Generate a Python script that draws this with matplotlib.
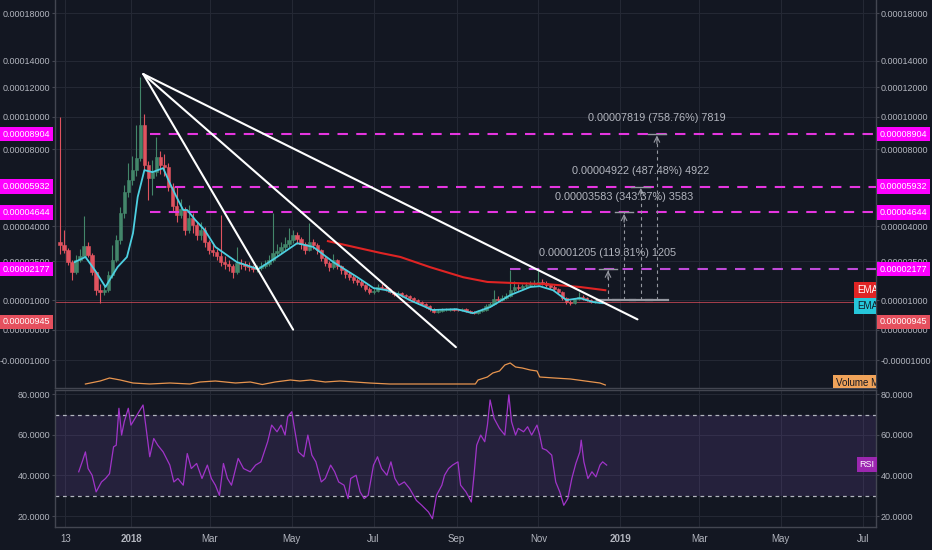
import numpy as np
import matplotlib.pyplot as plt
from matplotlib import font_manager
from matplotlib.ticker import FixedLocator, FuncFormatter

plt.rcParams['font.family'] = ['Liberation Sans', 'DejaVu Sans']
installed = {f.name for f in font_manager.fontManager.ttflist}
AXIS_FONT = 'Liberation Sans Narrow' if 'Liberation Sans Narrow' in installed else 'Liberation Sans'
AXIS_SIZE = 7.2 if AXIS_FONT == 'Liberation Sans Narrow' else 6.5

# colours (TradingView dark theme)
BG = '#131722'
GRID = '#242834'
AXIS_LINE = '#434651'
TEXT = '#b2b5be'
UP = '#43866a'
DOWN = '#e0535f'
TAG_MAGENTA = '#ff00ff'
TAG_RED = '#e5505e'

U = 1e-5  # all prices below are in units of 0.00001

# x positions are days counted from 2018-01-01
# 3-day candles starting 2017-11-09
CANDLE_START = -53
CANDLE_STEP = 3
first_open = 3.30
closes = [
    3.17, 2.96, 2.46, 2.06, 2.54, 2.71, 3.13, 2.75, 2.06, 1.37,
    1.30, 1.37, 1.94, 2.54, 3.38, 4.61, 5.65, 6.27, 6.81, 7.48,
    9.47, 7.09, 6.38, 6.70, 7.54, 7.09, 7.00, 5.91, 4.95, 4.52,
    4.80, 3.83, 4.38, 4.05, 3.60, 3.83, 3.30, 2.96, 2.88, 2.71,
    2.46, 2.38, 2.30, 2.06, 2.42, 2.38, 2.30, 2.26, 2.18, 2.22,
    2.30, 2.38, 2.54, 2.84, 2.92, 3.09, 3.21, 3.38, 3.60, 3.43,
    3.21, 2.96, 3.30, 3.17, 2.96, 2.63, 2.42, 2.26, 2.54, 2.30,
    2.14, 1.98, 1.86, 1.75, 1.68, 1.56, 1.41, 1.30, 1.34, 1.49,
    1.47, 1.41, 1.30, 1.23, 1.26, 1.19, 1.15, 1.08, 1.01, 0.94,
    0.87, 0.80, 0.69, 0.59, 0.62, 0.66, 0.67, 0.69, 0.66, 0.65,
    0.69, 0.62, 0.59, 0.55, 0.62, 0.66, 0.80, 0.87, 1.04, 1.01,
    1.08, 1.15, 1.37, 1.49, 1.45, 1.52, 1.56, 1.60, 1.64, 1.68,
    1.64, 1.56, 1.49, 1.41, 1.30, 1.08, 0.94, 0.90, 1.04, 1.12,
    1.08, 1.01, 0.94, 0.97, 0.95, 0.945,
]
highs = [
    10.0, 3.83, 3.05, 2.55, 2.75, 3.00, 4.47, 3.30, 2.85, 2.10,
    1.60, 1.55, 2.10, 3.17, 3.60, 4.90, 6.00, 7.20, 7.60, 9.47,
    12.8, 10.2, 7.30, 7.40, 8.70, 7.90, 7.70, 7.20, 6.10, 5.90,
    5.30, 4.90, 5.00, 4.60, 4.20, 4.20, 3.95, 3.40, 3.20, 3.00,
    4.52, 2.70, 2.55, 2.40, 3.10, 2.60, 2.50, 2.45, 2.35, 2.35,
    2.45, 2.55, 2.75, 4.61, 3.20, 3.30, 3.50, 3.92, 3.85, 3.75,
    3.50, 3.30, 4.17, 3.45, 3.25, 3.00, 2.70, 2.50, 2.80, 2.60,
    2.35, 2.20, 2.05, 1.95, 1.85, 1.75, 1.62, 1.48, 1.45, 1.62,
    1.60, 1.55, 1.45, 1.35, 1.35, 1.30, 1.24, 1.20, 1.12, 1.05,
    0.98, 0.92, 0.84, 0.72, 0.68, 0.72, 0.72, 0.74, 0.72, 0.70,
    0.74, 0.72, 0.65, 0.62, 0.66, 0.72, 0.86, 0.95, 1.37, 1.15,
    1.20, 1.25, 2.14, 1.70, 1.60, 1.62, 1.68, 1.72, 1.75, 2.22,
    1.78, 1.70, 1.62, 1.55, 1.45, 1.35, 1.12, 1.00, 1.10, 1.30,
    1.18, 1.12, 1.04, 1.00, 1.00, 0.98,
]
lows = [
    2.80, 2.85, 2.35, 1.75, 2.00, 2.45, 2.65, 2.65, 1.95, 1.20,
    0.90, 1.20, 1.30, 1.85, 2.45, 3.20, 4.40, 5.40, 6.00, 6.50,
    7.30, 6.80, 5.25, 5.50, 6.50, 6.60, 6.50, 5.70, 4.70, 4.20,
    4.40, 3.60, 3.70, 3.70, 3.40, 3.40, 3.10, 2.80, 2.70, 2.55,
    2.30, 2.20, 2.10, 1.85, 2.00, 2.20, 2.15, 2.10, 2.05, 2.08,
    2.15, 2.22, 2.30, 2.45, 2.70, 2.85, 2.95, 3.10, 3.25, 3.20,
    3.00, 2.80, 2.90, 3.00, 2.80, 2.50, 2.30, 2.10, 2.20, 2.20,
    2.00, 1.85, 1.75, 1.65, 1.58, 1.48, 1.33, 1.22, 1.24, 1.30,
    1.40, 1.35, 1.25, 1.17, 1.18, 1.12, 1.08, 1.02, 0.95, 0.88,
    0.82, 0.74, 0.64, 0.54, 0.56, 0.60, 0.62, 0.63, 0.62, 0.62,
    0.63, 0.58, 0.55, 0.51, 0.53, 0.60, 0.64, 0.76, 0.84, 0.95,
    0.98, 1.04, 1.12, 1.30, 1.38, 1.40, 1.46, 1.50, 1.54, 1.58,
    1.56, 1.50, 1.42, 1.35, 1.22, 1.00, 0.88, 0.85, 0.88, 1.00,
    1.02, 0.96, 0.90, 0.91, 0.92, 0.92,
]
last_price = 0.945

# fast EMA (cyan) and slow EMA (red)
ema_fast_days = [-42, -34, -27, -19, -16, -10, -3, 1.5, 5, 10, 16, 20, 24, 29, 34,
                 39, 42, 48, 55, 63, 79, 95, 109, 124, 136, 151, 169, 181, 191, 201,
                 208, 225, 243, 255, 268, 283, 298, 305, 315, 325, 335, 345, 352]
ema_fast = [2.46, 2.67, 2.14, 1.49, 1.75, 2.26, 2.67, 3.69, 5.40, 6.81, 6.70, 6.81,
            6.92, 6.11, 5.40, 4.76, 4.76, 4.29, 3.83, 3.09, 2.46, 2.18, 2.67, 3.25,
            3.09, 2.46, 1.86, 1.45, 1.37, 1.19, 1.01, 0.66, 0.69, 0.55, 0.76, 1.19,
            1.49, 1.52, 1.37, 1.01, 1.08, 0.94, 0.90]
ema_slow_days = [147, 186, 201, 223, 248, 266, 285, 310, 335, 354]
ema_slow = [3.34, 2.84, 2.67, 2.26, 1.86, 1.68, 1.64, 1.60, 1.49, 1.37]

# volume moving average (arbitrary units)
vol_days = [-34, -23, -16, -8, 1.5, 14, 29, 44, 51.5, 63, 78, 89, 98, 107.5, 119, 126,
            134, 145, 156, 167, 178, 193, 208, 223, 242, 257, 259, 266, 270, 275, 279,
            283, 287, 292, 298, 303, 305, 316, 328, 339, 350, 354]
vol_ma = [0.4, 0.7, 1.0, 0.8, 0.5, 0.4, 0.5, 0.4, 0.6, 0.7, 0.5, 0.6, 0.35, 0.6, 0.8,
          0.7, 0.8, 0.6, 0.7, 0.6, 0.5, 0.4, 0.4, 0.4, 0.4, 0.4, 0.8, 1.1, 1.5, 1.7,
          2.3, 2.5, 2.1, 2.0, 1.8, 1.7, 1.1, 1.0, 0.9, 0.7, 0.5, 0.3]

# RSI
rsi_days = [-39, -36, -34, -32, -29, -26, -22, -19, -16, -13, -11, -9, -7, -5, -2, 0, 3,
            9, 11, 14, 17, 20, 24, 29, 32, 35, 39, 42, 45, 49, 53, 57, 60, 63, 66, 69,
            72, 75, 80, 84, 89, 93, 97, 102, 105, 109, 112, 115, 117, 120, 122, 125,
            129, 132, 135, 138, 142, 145, 149, 152, 155, 159, 162, 164, 168, 171, 174,
            177, 181, 184, 187, 191, 194, 197, 200, 204, 208, 213, 217, 222, 225, 228,
            232, 234, 237, 240, 244, 246, 250, 254, 256, 258, 261, 264, 266, 268, 271,
            275, 279, 282, 284, 287, 289, 293, 296, 299, 303, 305, 307, 310, 314, 317,
            320, 323, 326, 329, 332, 335, 336, 338, 341, 344, 347, 350, 352, 355]
rsi = [41.8, 47.5, 51.6, 43.4, 40.1, 31.9, 36.8, 38.5, 40.9, 54.1, 54.9, 73.1, 59.9,
       66.5, 73.1, 64.8, 68.1, 74.7, 64.8, 49.2, 58.2, 54.9, 51.6, 45.1, 36.8, 38.5,
       35.2, 50.8, 43.4, 45.9, 38.5, 45.1, 38.5, 35.2, 30.2, 45.9, 38.5, 35.2, 48.4,
       43.4, 41.8, 45.1, 46.7, 56.6, 64.8, 61.5, 64.8, 59.9, 69.0, 71.4, 63.2, 51.6,
       49.2, 59.9, 50.0, 46.7, 36.8, 38.5, 45.1, 41.8, 36.8, 35.2, 28.6, 38.5, 40.1,
       31.9, 28.6, 30.2, 45.1, 49.2, 43.4, 40.1, 46.7, 38.5, 35.2, 36.8, 33.5, 27.7,
       25.3, 22.0, 18.7, 30.2, 35.2, 40.1, 43.4, 45.1, 46.7, 35.2, 31.9, 26.9, 40.1,
       54.9, 59.9, 56.6, 64.8, 77.2, 68.1, 63.2, 59.9, 79.7, 66.5, 59.9, 63.2, 61.5,
       64.0, 59.9, 64.8, 59.9, 53.3, 52.5, 50.0, 36.8, 31.9, 25.3, 28.6, 38.5, 45.9,
       51.6, 57.4, 46.7, 38.5, 41.8, 39.3, 45.1, 46.7, 45.1]

# horizontal levels
levels = [8.904, 5.932, 4.644, 2.177]
level_labels = ['0.00008904', '0.00005932', '0.00004644', '0.00002177']
level_start = [14, 19, 14, 283]
level_colors = ['#e535e0', '#e535e0', '#e535e0', '#c04ad8']

# trend lines from the January top
apex_day, apex_val = 9.2, 12.98
trend_end_days = [121, 242.5, 378]
trend_end_vals = [0.0, -0.57, 0.34]

# price range measurements
measure_days = [356, 368, 380.5, 392.5]
measure_tops = [2.177, 4.644, 5.932, 8.904]
measure_base = 1.01
measure_labels = ['0.00001205 (119.31%) 1205', '0.00003583 (343.37%) 3583',
                  '0.00004922 (487.48%) 4922', '0.00007819 (758.76%) 7819']

price_ticks = [18, 14, 12, 10, 8, 4, 2.5, 1, 0, -1]
rsi_ticks = [20, 40, 60, 80]
xtick_days = [-49, 0, 59, 120, 181, 243, 304, 365, 424, 485, 546]
xtick_labels = ['13', '2018', 'Mar', 'May', 'Jul', 'Sep', 'Nov', '2019', 'Mar', 'May', 'Jul']

# TradingView style log-like price scale: log(v + C) above 0, linear below
C = 1e-4
LNC = np.log(C)


def fwd(v):
    v = np.asarray(v, dtype=float)
    return np.where(v >= 0, np.log(np.maximum(v, 0) + C), LNC + v / C)


def inv(t):
    t = np.asarray(t, dtype=float)
    return np.where(t >= LNC, np.exp(np.minimum(t, 50)) - C, (t - LNC) * C)


fig = plt.figure(figsize=(9.32, 5.5), dpi=100)
fig.patch.set_facecolor(BG)
ax = fig.add_axes([55 / 932, 162 / 550, 821 / 932, 388 / 550])
ax_rsi = fig.add_axes([55 / 932, 23 / 550, 821 / 932, 137 / 550], sharex=ax)
ax_vol = ax.twinx()

for a in (ax, ax_rsi):
    a.set_facecolor(BG)
    a.set_axisbelow(True)
    a.grid(True, color=GRID, lw=0.8)
    for s in a.spines.values():
        s.set_color(AXIS_LINE)
        s.set_linewidth(1.0)
ax.spines['top'].set_visible(False)

ax.set_yscale('function', functions=(fwd, inv))
ax.set_xlim(-56.7, 556)
ax.set_ylim(-1.9 * U, 19.25 * U)
ax.yaxis.set_major_locator(FixedLocator([t * U for t in price_ticks]))
ax.yaxis.set_major_formatter(FuncFormatter(lambda v, p: f'{v:.8f}'))
ax.yaxis.set_minor_locator(FixedLocator([]))

# candles
days = CANDLE_START + CANDLE_STEP * np.arange(len(closes))
c = np.array(closes) * U
o = np.concatenate([[first_open], closes[:-1]]) * U
colors = np.where(c >= o, UP, DOWN)
ax.vlines(days, np.array(lows) * U, np.array(highs) * U, colors=colors, lw=0.8, zorder=3)
ax.bar(days, c - o, bottom=o, width=2.5, color=colors, edgecolor=colors, lw=0.4, zorder=4)

ax.axhline(last_price * U, color=TAG_RED, lw=0.7, alpha=0.7, zorder=2)

for lvl, start, col in zip(levels, level_start, level_colors):
    ax.plot([start, 556], [lvl * U, lvl * U], color=col, lw=1.5, dashes=(5, 4), zorder=5)

ax.plot(ema_slow_days, np.array(ema_slow) * U, color='#e02424', lw=1.5, zorder=6)
ax.plot(ema_fast_days, np.array(ema_fast) * U, color='#4dd0e1', lw=1.3, zorder=6)

for ed, ev in zip(trend_end_days, trend_end_vals):
    ax.plot([apex_day, ed], [apex_val * U, ev * U], color='white', lw=1.5,
            solid_capstyle='round', zorder=7)

MEAS = '#9598a1'
for d, top, lab in zip(measure_days, measure_tops, measure_labels):
    ax.plot([d, d], [measure_base * U, top * U], color=MEAS, lw=0.8, dashes=(3, 3), zorder=6)
    ax.plot([d - 7, d + 7], [top * U, top * U], color=MEAS, lw=1.0, zorder=6)
    ax.plot([d - 8, d + 8], [measure_base * U, measure_base * U], color=MEAS, lw=1.6, zorder=6)
    ax.annotate('', xy=(d, top * U), xytext=(0, -7), textcoords='offset points',
                arrowprops=dict(arrowstyle='->', color=MEAS, lw=0.8, shrinkA=0, shrinkB=1))
    ax.annotate(lab, (d, top * U), xytext=(0, 11.5), textcoords='offset points',
                ha='center', va='center', color=TEXT, fontsize=7.8, zorder=8)

# volume MA overlay at the bottom of the price pane
ax_vol.set_ylim(0, 38.8)
ax_vol.axis('off')
ax_vol.plot(vol_days, vol_ma, color='#e8954f', lw=0.9)

ax.tick_params(axis='y', which='major', left=True, right=True, labelleft=True,
               labelright=True, color=AXIS_LINE, labelcolor=TEXT, labelsize=AXIS_SIZE,
               labelfontfamily=AXIS_FONT, length=2, pad=1.5)
ax.tick_params(axis='x', length=0, labelbottom=False)

# price tags on both scales
ytr = ax.get_yaxis_transform()


def tag(y, text, fc, tc='white', transform=ytr):
    box = dict(boxstyle='square,pad=0.3', fc=fc, ec='none')
    ax.text(-5 / 821, y, text, transform=transform, ha='right', va='center',
            fontsize=AXIS_SIZE, family=AXIS_FONT, color=tc, bbox=box, clip_on=False, zorder=20)
    ax.text(1 + 4 / 821, y, text, transform=transform, ha='left', va='center',
            fontsize=AXIS_SIZE, family=AXIS_FONT, color=tc, bbox=box, clip_on=False, zorder=20)


for lvl, lab in zip(levels, level_labels):
    tag(lvl * U, lab, TAG_MAGENTA)
tag((388 - 322) / 388, '0.00000945', TAG_RED, transform=ax.transAxes)

# legend-like tags clipped at the pane edge
ax.text(0.977, (388 - 290) / 388, 'EMA', transform=ax.transAxes, ha='left', va='center',
        fontsize=7, color='white', clip_on=True, zorder=21,
        bbox=dict(boxstyle='square,pad=0.3', fc='#e02424', ec='none'))
ax.text(0.977, (388 - 306) / 388, 'EMA', transform=ax.transAxes, ha='left', va='center',
        fontsize=7, color=BG, clip_on=True, zorder=21,
        bbox=dict(boxstyle='square,pad=0.3', fc='#26c6da', ec='none'))
ax.text(0.951, (388 - 383) / 388, 'Volume MA', transform=ax.transAxes, ha='left',
        va='center', fontsize=7, color=BG, clip_on=True, zorder=21,
        bbox=dict(boxstyle='square,pad=0.3', fc='#f0a35a', ec='none'))

# RSI pane
ax_rsi.set_ylim(14.6, 82.1)
ax_rsi.axhspan(30, 70, color='#7e57c2', alpha=0.17, lw=0, zorder=1)
ax_rsi.axhline(70, color='#b2b5be', lw=0.9, dashes=(3, 3), zorder=2)
ax_rsi.axhline(30, color='#b2b5be', lw=0.9, dashes=(3, 3), zorder=2)
ax_rsi.plot(rsi_days, rsi, color='#a034c8', lw=0.9, zorder=3)
ax_rsi.set_yticks(rsi_ticks)
ax_rsi.yaxis.set_major_formatter(FuncFormatter(lambda v, p: f'{v:.4f}'))
ax_rsi.tick_params(axis='y', left=True, right=True, labelleft=True, labelright=True,
                   color=AXIS_LINE, labelcolor=TEXT, labelsize=AXIS_SIZE,
                   labelfontfamily=AXIS_FONT, length=2, pad=1.5)
ax_rsi.text(0.998, 45.3, 'RSI', transform=ax_rsi.get_yaxis_transform(), ha='right',
            va='center', fontsize=AXIS_SIZE, family=AXIS_FONT, color='white', zorder=10,
            bbox=dict(boxstyle='square,pad=0.3', fc='#9c27b0', ec='none'))

ax_rsi.set_xticks(xtick_days)
ax_rsi.set_xticklabels(xtick_labels)
ax_rsi.tick_params(axis='x', length=0, pad=5, labelcolor=TEXT, labelsize=7)
for lbl in ax_rsi.get_xticklabels():
    if lbl.get_text() in ('2018', '2019'):
        lbl.set_fontweight('bold')

fig.savefig('out.png', dpi=100, facecolor=BG)
